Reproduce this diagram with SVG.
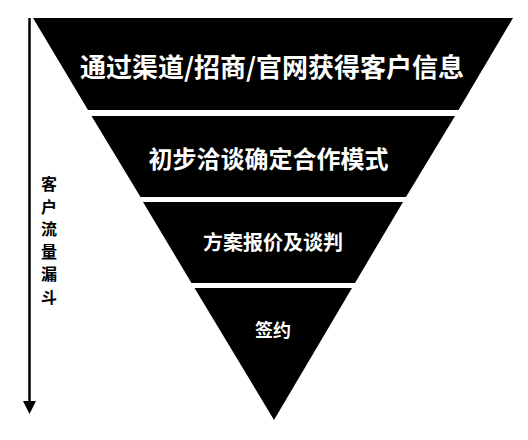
<svg xmlns="http://www.w3.org/2000/svg" width="528" height="440" viewBox="0 0 528 440">
<style>
.band{fill:#000}
.lbl{fill:#fff;font-family:"Noto Sans CJK SC","Noto Sans",sans-serif;font-weight:700;text-anchor:middle;dominant-baseline:central}
.side{fill:#000;font-family:"Noto Sans CJK SC","Noto Sans",sans-serif;font-weight:700;font-size:16px;text-anchor:middle;dominant-baseline:central}
</style>
<rect width="528" height="440" fill="#fff"/>
<g id="connectors">
<line x1="29.5" y1="18" x2="29.5" y2="402" stroke="#000" stroke-width="2.5"/>
<path d="M23,401 L36,401 L29.5,414 Z" fill="#000"/>
</g>
<g id="side-label">
<text class="side" x="49" y="183">客</text>
<text class="side" x="49" y="205.5">户</text>
<text class="side" x="49" y="228">流</text>
<text class="side" x="49" y="250.5">量</text>
<text class="side" x="49" y="273">漏</text>
<text class="side" x="49" y="296">斗</text>
</g>
<g id="stage1">
<polygon class="band" points="33,18 513,18 458.5,110 88,110"/>
<text class="lbl" x="272" y="65" font-size="26">通过渠道/招商/官网获得客户信息</text>
</g>
<g id="stage2">
<polygon class="band" points="91.5,116 455,116 406,197 140.5,197"/>
<text class="lbl" x="268.5" y="157.5" font-size="24">初步洽谈确定合作模式</text>
</g>
<g id="stage3">
<polygon class="band" points="143,202 403,202 355,283 191.5,283"/>
<text class="lbl" x="273" y="241.5" font-size="20">方案报价及谈判</text>
</g>
<g id="stage4">
<polygon class="band" points="194.5,288 352,288 274,420"/>
<text class="lbl" x="273" y="328.5" font-size="18">签约</text>
</g>
</svg>
